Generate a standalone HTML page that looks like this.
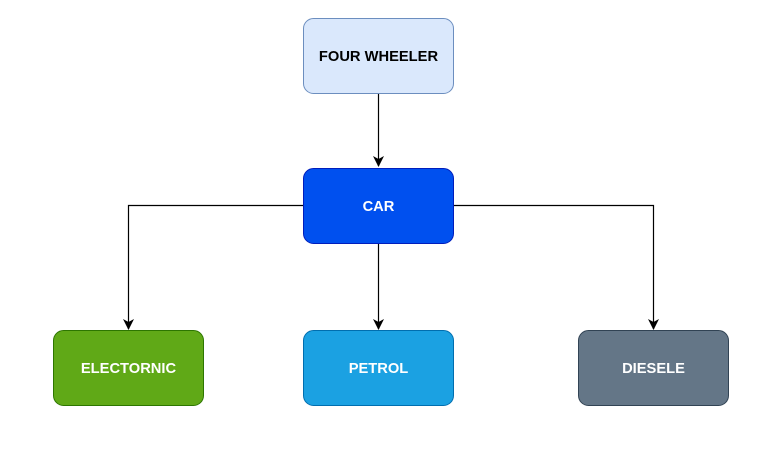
<!DOCTYPE html>
<html><head><style>
body{margin:0;width:781px;height:458px;background:#fff;overflow:hidden}
</style></head><body>
<svg width="781" height="458" xmlns="http://www.w3.org/2000/svg" font-family="Liberation Sans, sans-serif" font-weight="bold" font-size="14.7">
<defs><marker id="a" markerWidth="12" markerHeight="12" refX="10" refY="5.5" orient="auto" markerUnits="userSpaceOnUse"><path d="M0,0 L11,5.5 L0,11 L3,5.5 Z" fill="#000"/></marker></defs>
<g stroke="#000" stroke-width="1.2" fill="none">
<path d="M378.5 93 V166" marker-end="url(#a)"/>
<path d="M378.5 243 V329" marker-end="url(#a)"/>
<path d="M303 205.5 H128.5 V329" marker-end="url(#a)"/>
<path d="M454 205.5 H653.5 V329" marker-end="url(#a)"/>
</g>
<rect x="303.5" y="18.5" width="150" height="75" rx="10" fill="#dae8fc" stroke="#6c8ebf"/>
<text x="378.5" y="61" text-anchor="middle" fill="#000">FOUR WHEELER</text>
<rect x="303.5" y="168.5" width="150" height="75" rx="10" fill="#0050ef" stroke="#001dbc"/>
<text x="378.5" y="211" text-anchor="middle" fill="#fff">CAR</text>
<rect x="53.5" y="330.5" width="150" height="75" rx="10" fill="#60a917" stroke="#2d7600"/>
<text x="128.5" y="373" text-anchor="middle" fill="#fff">ELECTORNIC</text>
<rect x="303.5" y="330.5" width="150" height="75" rx="10" fill="#1ba1e2" stroke="#006eaf"/>
<text x="378.5" y="373" text-anchor="middle" fill="#fff">PETROL</text>
<rect x="578.5" y="330.5" width="150" height="75" rx="10" fill="#647687" stroke="#314354"/>
<text x="653.5" y="373" text-anchor="middle" fill="#fff">DIESELE</text>
</svg>
</body></html>
